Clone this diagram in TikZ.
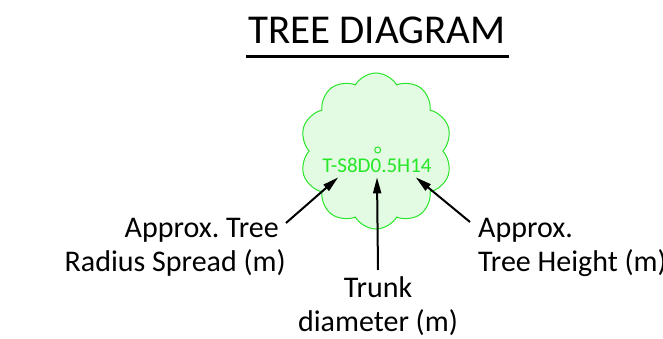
\documentclass[tikz,border=0pt]{standalone}
\usepackage{fontspec}
\setmainfont{Carlito}
\usetikzlibrary{arrows.meta,shapes.symbols}
\definecolor{leaf}{RGB}{40,230,40}
\definecolor{leaffill}{RGB}{226,251,226}

\begin{document}
\frenchspacing
\begin{tikzpicture}[x=1pt,y=-1pt,
   pointer/.style={draw=black,line width=2pt,-{Triangle[length=16pt,width=8pt]}},
   callout/.style={inner sep=0pt,font=\fontsize{30}{34}\selectfont}]
   \useasboundingbox (0,0) rectangle (663,339);
   \node[anchor=base west,inner sep=0pt,font=\fontsize{41}{48}\selectfont] (title) at (248,44) {TREE DIAGRAM};
   \draw[line width=2.5pt] ([xshift=-2pt,yshift=-12pt]title.south west) -- ([xshift=3pt,yshift=-12pt]title.south east);
   \node[cloud,cloud puffs=10,cloud puff arc=120,aspect=1,draw=leaf,fill=leaffill,line width=1pt,
         minimum width=152pt,minimum height=156pt,inner sep=0pt] (crown) at (376,151) {};
   \node[circle,draw=leaf,line width=1pt,minimum size=6pt,inner sep=0pt] (trunk) at (377.7,150) {};
   \node[anchor=base,text=leaf,inner xsep=0pt,inner ysep=5pt,font=\fontsize{21}{25}\selectfont] (code) at (377,172) {T-S8D0.5H14};
   \node[callout,anchor=north east,align=right] (radius) at (286,218) {Approx. Tree\kern7pt\\Radius Spread (m)};
   \node[callout,anchor=north west,align=left] (height) at (478,218) {Approx.\\Tree Height (m)};
   \node[callout,anchor=north,align=center] (diam) at (378,276) {Trunk\\diameter (m)};
   \draw[pointer] ([yshift=-5pt]radius.north east) -- ([xshift=16pt]code.south west);
   \draw[pointer] ([yshift=6pt]diam.north) -- (code.south);
   \draw[pointer] ([xshift=-8pt,yshift=-4pt]height.north west) -- ([xshift=-16pt]code.south east);
\end{tikzpicture}
\end{document}
